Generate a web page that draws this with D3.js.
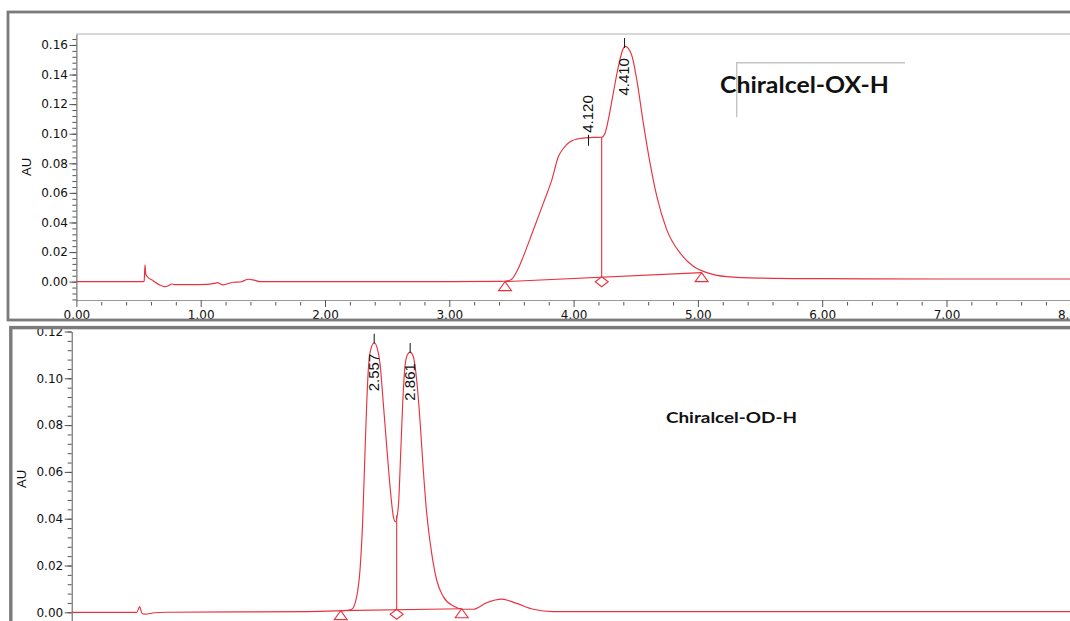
<!DOCTYPE html>
<html><head><meta charset="utf-8">
<script src="https://cdn.jsdelivr.net/npm/d3@7"></script>
<style>html,body{margin:0;padding:0;background:#fff;} svg{display:block;}</style>
</head><body>
<svg id="c" width="1070" height="621"></svg>
<script>
// ---------- DATA ----------
// Top chromatogram (Chiralcel-OX-H): retention time (min) and absorbance (AU)
const topTime = [0,0.54,0.545,0.552,0.558,0.57,0.62,0.67,0.71,0.74,0.767,0.79,0.9,1.05,1.12,1.13,1.18,1.26,1.32,1.383,1.43,1.48,2.0,3.0,3.40,3.48,3.502,3.55,3.595,3.676,3.756,3.824,3.877,3.917,3.971,4.052,4.158,4.226,4.253,4.279,4.319,4.360,4.400,4.415,4.467,4.508,4.561,4.615,4.669,4.749,4.856,4.963,5.071,5.232,5.5,6.0,7.0,8.2];
const topAU   = [0,0,0.0005,0.0113,0.005,0.0035,0.0005,-0.0022,-0.0034,-0.0028,-0.0016,-0.0020,-0.0020,-0.0018,-0.0010,-0.0007,-0.0022,-0.0004,-0.0002,0.0016,0.0010,0,0,0,0.0002,0.0008,0.0016,0.008,0.0169,0.0349,0.0529,0.0686,0.0844,0.0900,0.0945,0.0968,0.0975,0.0976,0.1003,0.1093,0.1273,0.1453,0.1577,0.1590,0.1532,0.1365,0.1072,0.0801,0.0578,0.0352,0.0194,0.0104,0.0061,0.0034,0.0024,0.0020,0.0018,0.0018];
// Bottom chromatogram (Chiralcel-OD-H)
const botTime = [0,0.55,0.575,0.58,0.595,0.62,0.7,0.8,2.0,2.3,2.367,2.409,2.437,2.46,2.479,2.494,2.507,2.527,2.557,2.583,2.606,2.634,2.663,2.691,2.719,2.736,2.761,2.781,2.798,2.817,2.837,2.861,2.888,2.916,2.944,2.972,3.001,3.043,3.085,3.141,3.226,3.310,3.395,3.508,3.635,3.762,3.902,4.071,5.0,8.5];
const botAU   = [0,0,0.0025,0.0017,-0.0005,-0.0008,-0.0002,0,0.0003,0.0007,0.0013,0.0067,0.0181,0.0394,0.068,0.0893,0.1035,0.1121,0.1152,0.1128,0.1064,0.0893,0.0708,0.0537,0.0409,0.0387,0.0451,0.068,0.0893,0.105,0.110,0.1112,0.1092,0.0993,0.0822,0.0608,0.0423,0.0252,0.0138,0.0067,0.0027,0.0013,0.0013,0.0041,0.0056,0.0038,0.0013,0.0003,0.0003,0.0003];

// Peak labels
const topPeakTimes = [4.120, 4.410];
const topPeakText  = ["4.120", "4.410"];
const topPeakSide  = ["above", "below"];
const botPeakTimes = [2.557, 2.861];
const botPeakText  = ["2.557", "2.861"];
const botPeakSide  = ["below", "below"];

// Integration baseline marks: [start, drop, end] times; start/end baseline values
const topBaseTimes = [3.448, 4.226, 5.03];
const topBaseAU    = [0.0000, 0.0061];
const botBaseTimes = [2.274, 2.747, 3.297];
const botBaseAU    = [0.0007, 0.0015];

// Ticks
const xTicks = [0,1,2,3,4,5,6,7,8];
const yTicksTop = [0,0.02,0.04,0.06,0.08,0.10,0.12,0.14,0.16];
const yTicksBot = [0,0.02,0.04,0.06,0.08,0.10,0.12];
const titleTop = "Chiralcel-OX-H";
const titleBot = "Chiralcel-OD-H";
const yLabel = "AU";

// ---------- DRAW ----------
const svg = d3.select("#c");
const RED = "#e8323e";
const fmt = d3.format(".2f");

function valueAt(ts, vs, t){
  const i = d3.bisectLeft(ts, t);
  if (i <= 0) return vs[0];
  if (i >= ts.length) return vs[vs.length-1];
  const t0 = ts[i-1], t1 = ts[i];
  return vs[i-1] + (vs[i]-vs[i-1])*(t-t0)/(t1-t0);
}

function panel(cfg){
  const g = svg.append("g");
  const x = d3.scaleLinear().domain(cfg.xDomain).range(cfg.xRange);
  const y = d3.scaleLinear().domain(cfg.yDomain).range(cfg.yRange);
  const clipId = "clip" + cfg.id;
  svg.append("clipPath").attr("id", clipId).append("rect")
    .attr("x", cfg.xRange[0]).attr("y", cfg.clipTop)
    .attr("width", 1100).attr("height", cfg.clipH);

  if (cfg.topBorder) g.append("line").attr("x1", cfg.xRange[0]).attr("x2", 1070)
      .attr("y1", cfg.yRange[1]).attr("y2", cfg.yRange[1]).attr("stroke", "#b0b0b0").attr("stroke-width", 1);

  const minor = d3.range(cfg.minorFrom, cfg.minorTo + 1e-9, 0.004).map(v => +v.toFixed(4));
  g.append("g").attr("transform", `translate(${cfg.xRange[0]},0)`)
    .call(d3.axisLeft(y).tickValues(minor).tickSize(4).tickFormat("").tickSizeOuter(0))
    .call(a => a.select(".domain").remove())
    .call(a => a.selectAll("line").attr("stroke", "#555"));
  const ya = g.append("g").attr("transform", `translate(${cfg.xRange[0]},0)`)
    .call(d3.axisLeft(y).tickValues(cfg.yTicks).tickSize(7).tickPadding(1.5).tickFormat(fmt).tickSizeOuter(0));
  ya.select(".domain").attr("stroke", "#555");
  ya.selectAll("line").attr("stroke", "#555");
  ya.selectAll("text").attr("font-family", "DejaVu Sans").attr("font-size", 12).attr("fill", "#111");

  if (cfg.xAxis) {
    const xa = g.append("g").attr("transform", `translate(0,${cfg.yRange[0]})`)
      .call(d3.axisBottom(x).tickValues(xTicks).tickSize(7).tickPadding(3).tickFormat(fmt).tickSizeOuter(0));
    xa.select(".domain").attr("stroke", "#9a9a9a");
    xa.selectAll("line").attr("stroke", "#555");
    xa.selectAll("text").attr("font-family", "DejaVu Sans").attr("font-size", 12).attr("fill", "#111");
    const xm = d3.range(0, 8.01, 0.2).map(v => +v.toFixed(1)).filter(v => Math.abs(v - Math.round(v)) > 1e-6);
    g.append("g").attr("transform", `translate(0,${cfg.yRange[0] + 2})`)
      .call(d3.axisBottom(x).tickValues(xm).tickSize(3.5).tickFormat("").tickSizeOuter(0))
      .call(a => a.select(".domain").remove())
      .call(a => a.selectAll("line").attr("stroke", "#555"));
  }

  g.append("text").attr("transform", `translate(${cfg.auX},${cfg.auY}) rotate(-90)`)
    .attr("text-anchor", "middle").attr("dy", "0.35em")
    .attr("font-family", "Liberation Sans").attr("font-size", 13).attr("fill", "#111").text(yLabel);

  const pts = cfg.t.map((t, i) => [t, cfg.v[i]]);
  const line = d3.line().x(d => x(d[0])).y(d => y(d[1])).curve(d3.curveMonotoneX);
  const cg = g.append("g").attr("clip-path", `url(#${clipId})`);
  cg.append("path").datum(pts).attr("d", line).attr("fill", "none")
    .attr("stroke", RED).attr("stroke-width", 1.15);

  const bt = cfg.baseT, bv = cfg.baseV;
  const baseAt = t => bv[0] + (bv[1]-bv[0])*(t-bt[0])/(bt[2]-bt[0]);
  cg.append("line").attr("x1", x(bt[0])).attr("y1", y(bv[0])).attr("x2", x(bt[2])).attr("y2", y(bv[1]))
    .attr("stroke", RED).attr("stroke-width", 1.1);
  cg.append("line").attr("x1", x(bt[1])).attr("x2", x(bt[1]))
    .attr("y1", y(baseAt(bt[1]))).attr("y2", y(valueAt(cfg.t, cfg.v, bt[1])))
    .attr("stroke", RED).attr("stroke-width", 1.1);
  [[bt[0], bv[0]], [bt[2], bv[1]]].forEach(([t, v]) => {
    const px = x(t), py = y(v);
    g.append("path").attr("d", `M${px},${py} L${px+6.5},${py+9} L${px-6.5},${py+9} Z`)
      .attr("fill", "none").attr("stroke", RED).attr("stroke-width", 1.1);
  });
  { const px = x(bt[1]), py = y(baseAt(bt[1])) + 4.5;
    g.append("path").attr("d", `M${px},${py-5} L${px+6.5},${py} L${px},${py+5} L${px-6.5},${py} Z`)
      .attr("fill", "none").attr("stroke", RED).attr("stroke-width", 1.1); }

  cfg.peakT.forEach((t, i) => {
    const px = x(t), py = y(valueAt(cfg.t, cfg.v, t));
    const above = cfg.peakSide[i] === "above";
    g.append("line").attr("x1", px).attr("x2", px)
      .attr("y1", above ? py - 3 : py - 9).attr("y2", above ? py + 8 : py + 1)
      .attr("stroke", "#111").attr("stroke-width", 1);
    g.append("text").attr("transform", `translate(${px - 1},${above ? py - 5 : py + 11}) rotate(-90)`)
      .attr("text-anchor", above ? "start" : "end").attr("dy", "0.36em")
      .attr("font-family", "Liberation Sans").attr("font-size", 15).attr("fill", "#111")
      .text(cfg.peakText[i]);
  });

  svg.append("rect").attr("x", cfg.frame[0]).attr("y", cfg.frame[1])
    .attr("width", cfg.frame[2]).attr("height", cfg.frame[3])
    .attr("fill", "none").attr("stroke", "#7b7b7b").attr("stroke-width", cfg.frameW);
  return {x, y, g};
}

panel({
  id: "top", xDomain: [0, 8.2], xRange: [76.4, 76.4 + 8.2*124.3],
  yDomain: [-0.0124, 0.1674], yRange: [300, 34], clipTop: 34, clipH: 266,
  yTicks: yTicksTop, minorFrom: -0.012, minorTo: 0.164, xAxis: true, topBorder: true,
  auX: 26, auY: 167, t: topTime, v: topAU,
  baseT: topBaseTimes, baseV: topBaseAU,
  peakT: topPeakTimes, peakText: topPeakText, peakSide: topPeakSide,
  frame: [8, 12, 1090, 308], frameW: 2.8
});

panel({
  id: "bot", xDomain: [0, 8.5], xRange: [71.7, 71.7 + 8.5*118.3],
  yDomain: [-0.004, 0.12], yRange: [621.66, 331.5], clipTop: 329, clipH: 300,
  yTicks: yTicksBot, minorFrom: -0.004, minorTo: 0.12, xAxis: false, topBorder: false,
  auX: 21, auY: 479, t: botTime, v: botAU,
  baseT: botBaseTimes, baseV: botBaseAU,
  peakT: botPeakTimes, peakText: botPeakText, peakSide: botPeakSide,
  frame: [10.8, 327.6, 1090, 320], frameW: 3.4
});

svg.append("path").attr("d", "M736.7,117.3 L736.7,62.7 L905,62.7")
  .attr("fill", "none").attr("stroke", "#c4c4c4").attr("stroke-width", 1.4);
svg.append("text").attr("x", 720).attr("y", 92.5)
  .attr("font-family", "Lato").attr("font-weight", 700).attr("font-size", 23)
  .attr("textLength", 169).attr("lengthAdjust", "spacingAndGlyphs")
  .attr("fill", "#111").text(titleTop);
svg.append("text").attr("x", 666).attr("y", 423.3)
  .attr("font-family", "Lato").attr("font-weight", 700).attr("font-size", 15.5)
  .attr("textLength", 131).attr("lengthAdjust", "spacingAndGlyphs")
  .attr("fill", "#111").text(titleBot);
</script></body></html>
